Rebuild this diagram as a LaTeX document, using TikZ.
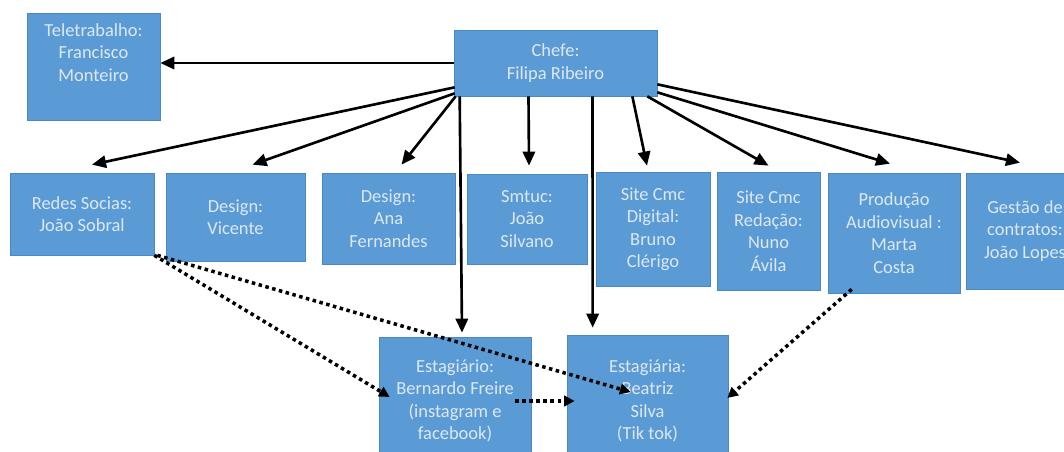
\documentclass[tikz,border=0pt]{standalone}
\usepackage{fontspec}
\setmainfont{Carlito}
\usetikzlibrary{arrows.meta}
\definecolor{boxblue}{HTML}{5B9BD5}
\definecolor{boxline}{HTML}{4A88C4}
\definecolor{boxtext}{HTML}{DDE8F5}

\begin{document}
\begin{tikzpicture}[x=0.02cm,y=-0.02cm]
            \tikzstyle{post}=[draw=boxline,fill=boxblue,text=boxtext,align=center,inner sep=0pt,font=\fontsize{10.5}{12.8}\selectfont]
            \tikzstyle{arrow}=[line width=1.5pt,-{Triangle[length=8pt,width=7pt]}]
            \tikzstyle{link}=[line width=2pt,dotted,-{Triangle[length=6pt,width=6pt]}]
            \useasboundingbox (0,0) rectangle (1064,452);
            \clip (0,0) rectangle (1064,452);
            % top row
            \node[post,minimum width=2.66cm,minimum height=2.14cm] (tele) at (93.5,67) {Teletrabalho:\\Francisco\\Monteiro\\\strut};
            \node[post,minimum width=4.06cm,minimum height=1.32cm] (chefe) at (555.5,63) {Chefe:\\Filipa Ribeiro};
            % middle row
            \node[post,minimum width=2.88cm,minimum height=1.64cm] (redes) at (82,214) {Redes Socias:\\João Sobral};
            \node[post,minimum width=2.78cm,minimum height=1.76cm] (vicente) at (235.5,217) {Design:\\Vicente};
            \node[post,minimum width=2.66cm,minimum height=1.82cm] (ana) at (388.5,218.5) {Design:\\Ana\\Fernandes};
            \node[post,minimum width=2.40cm,minimum height=1.80cm] (smtuc) at (527,219) {Smtuc:\\João\\Silvano};
            \node[post,minimum width=2.28cm,minimum height=2.28cm] (digital) at (653,229) {Site Cmc\\Digital:\\Bruno\\Clérigo};
            \node[post,minimum width=2.06cm,minimum height=2.36cm] (redacao) at (768.5,231) {Site Cmc\\Redação:\\Nuno\\Ávila};
            \node[post,minimum width=2.64cm,minimum height=2.40cm] (producao) at (894,233) {Produção\\Audiovisual :\\Marta\\Costa};
            \node[post,minimum width=2.36cm,minimum height=2.32cm] (gestao) at (1025,231) {Gestão de\\contratos:\\João Lopes};
            % interns
            \node[post,minimum width=3.04cm,minimum height=2.56cm] (bernardo) at (455,401) {Estagiário:\\Bernardo Freire\\(instagram e\\facebook)};
            \node[post,minimum width=3.22cm,minimum height=2.64cm] (beatriz) at (647.5,401) {Estagiária:\\Beatriz\\Silva\\(Tik tok)};
            % chefe to everyone
            \draw[arrow] (chefe.west) -- (chefe.west -| tele.east);
            \draw[arrow] ([shift={(1,-9)}]chefe.south west) -- ([shift={(10,-8)}]redes.north);
            \draw[arrow] ([shift={(1,-3)}]chefe.south west) -- ([shift={(17,-8)}]vicente.north);
            \draw[arrow] ([shift={(2,0)}]chefe.south west) -- ([shift={(13,-8)}]ana.north);
            \draw[arrow] ([shift={(6,0)}]chefe.south west) -- ([shift={(7,-4)}]bernardo.north);
            \draw[arrow] ([shift={(-27,0)}]chefe.south) -- ([shift={(2,-8)}]smtuc.north);
            \draw[arrow] ([shift={(37,0)}]chefe.south) -- ([shift={(26,-7)}]beatriz.north west);
            \draw[arrow] ([shift={(-25,0)}]chefe.south east) -- ([shift={(-6,-6)}]digital.north);
            \draw[arrow] ([shift={(-10,0)}]chefe.south east) -- ([shift={(0,-6)}]redacao.north);
            \draw[arrow] ([shift={(0,-4)}]chefe.south east) -- ([shift={(-4,-9)}]producao.north);
            \draw[arrow] ([shift={(0,-12)}]chefe.south east) -- ([shift={(-5,-10)}]gestao.north);
            % dotted links to the interns
            \draw[link] (redes.south east) -- ([shift={(11,-4)}]bernardo.west);
            \draw[link] ([shift={(3,0)}]redes.south east) -- ([shift={(-17,-9)}]beatriz.center);
            \draw[link] ([shift={(-16,0)}]bernardo.east) -- ([shift={(8,0)}]beatriz.west);
            \draw[link] ([shift={(24,-4)}]producao.south west) -- ([shift={(-1,-3)}]beatriz.east);
\end{tikzpicture}
\end{document}
